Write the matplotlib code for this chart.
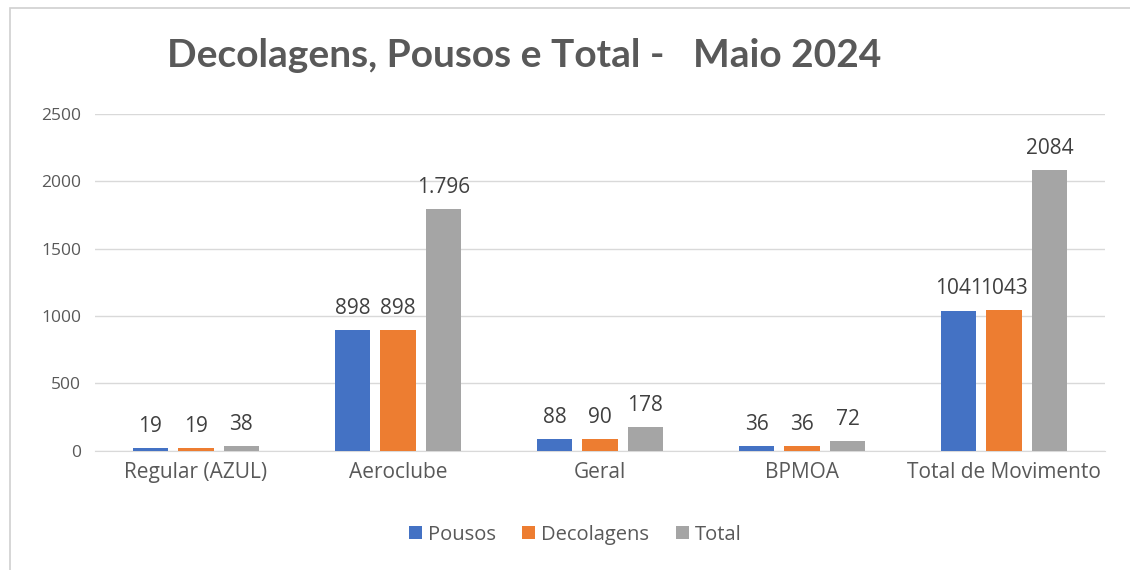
import matplotlib.pyplot as plt
import numpy as np
from matplotlib.patches import Rectangle

categories = ['Regular (AZUL)', 'Aeroclube', 'Geral', 'BPMOA', 'Total de Movimento']
pousos = [19, 898, 88, 36, 1041]
decolagens = [19, 898, 90, 36, 1043]
total = [38, 1796, 178, 72, 2084]
total_labels = ['38', '1.796', '178', '72', '2084']

plt.rcParams['font.family'] = ['Open Sans', 'DejaVu Sans']

fig = plt.figure(figsize=(11.3, 5.7), dpi=100)
ax = fig.add_axes([0.084, 0.209, 0.894, 0.591])

x = np.arange(len(categories))
w = 0.175
off = 0.225
series = [('Pousos', pousos, '#4472c4', [str(v) for v in pousos]),
          ('Decolagens', decolagens, '#ed7d31', [str(v) for v in decolagens]),
          ('Total', total, '#a5a5a5', total_labels)]

for i, (name, vals, col, labs) in enumerate(series):
    bars = ax.bar(x + (i - 1) * off, vals, w, color=col, label=name, zorder=3)
    ax.bar_label(bars, labels=labs, padding=8, fontsize=15, color='#404040')

ax.set_xlim(-0.5, 4.5)
ax.set_ylim(0, 2500)
ax.set_yticks(range(0, 2501, 500))
ax.yaxis.grid(True, color='#d9d9d9', linewidth=1, zorder=0)
for s in ['top', 'right', 'left']:
    ax.spines[s].set_visible(False)
ax.spines['bottom'].set_color('#d9d9d9')
ax.tick_params(axis='both', length=0, labelsize=12.5, colors='#595959', pad=10)
ax.tick_params(axis='x', labelsize=15, pad=8)
ax.set_xticks(x)
ax.set_xticklabels(categories)

fig.text(0.464, 0.902, 'Decolagens, Pousos e Total -   Maio 2024', ha='center', va='center',
         fontsize=28, fontweight='bold', color='#595959', family=['Lato', 'DejaVu Sans'])

fig.legend(loc='center', bbox_to_anchor=(0.509, 0.062), ncol=3, frameon=False,
           fontsize=14.5, handlelength=0.65, handleheight=0.65, handletextpad=0.3,
           columnspacing=1.3, labelcolor='#595959')

fig.patches.append(Rectangle((10 / 1130, -0.1), 1.2, 1 - 8 / 570 + 0.1, transform=fig.transFigure,
                             fill=False, edgecolor='#d0d0d0', linewidth=1.2))

fig.savefig('out.png', dpi=100, facecolor='white')
